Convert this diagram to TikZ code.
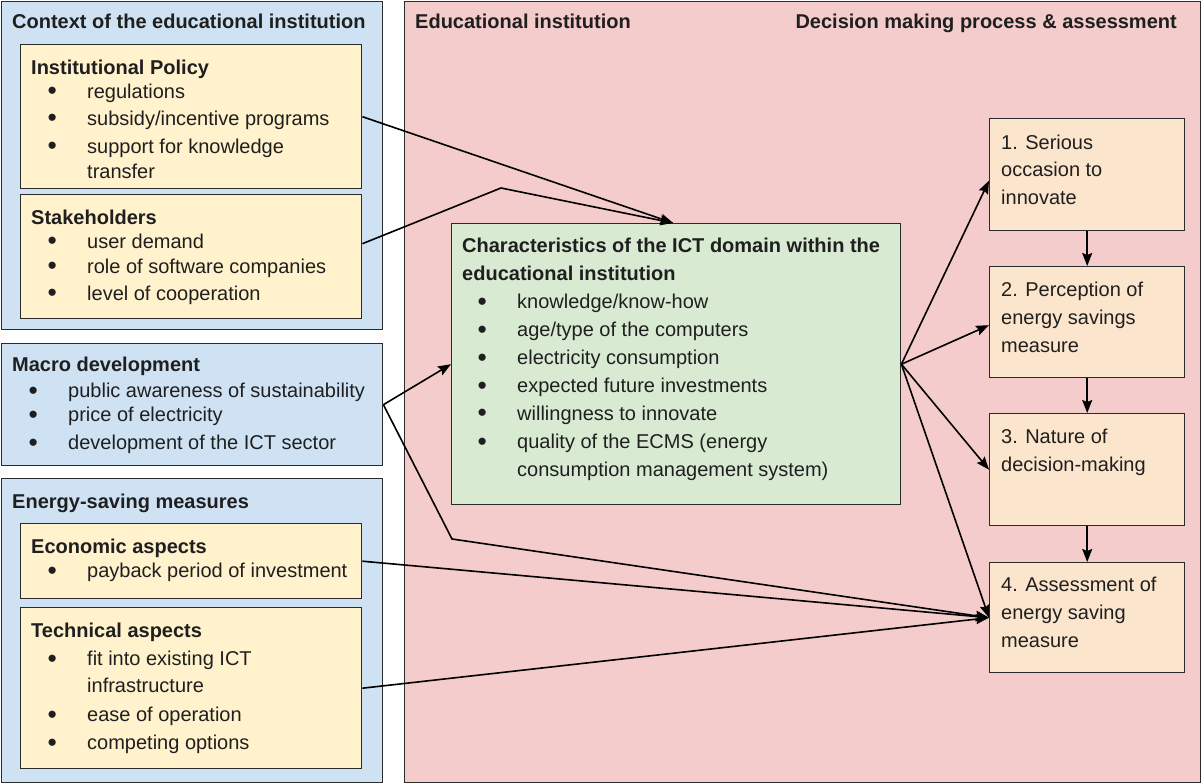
\documentclass[tikz,border=0pt]{standalone}
\usepackage{fontspec}
\setmainfont{Liberation Sans}
\usepackage{xcolor}
\usepackage{graphicx}
\usetikzlibrary{
  positioning,
  arrows.meta
}
\definecolor{ctxblue}{HTML}{CFE2F3}
\definecolor{polyellow}{HTML}{FFF2CC}
\definecolor{instpink}{HTML}{F4CCCC}
\definecolor{ictgreen}{HTML}{D9EAD3}
\definecolor{steppeach}{HTML}{FCE5CD}
\definecolor{edgegray}{HTML}{2B2B2B}
\tikzset{
  panel/.style={draw=edgegray, line width=1.4pt, anchor=north west, inner sep=0pt},
  txt/.style={anchor=north west, inner sep=0pt, align=left, text=black!88, font=\fontsize{20}{28}\selectfont},
  head/.style={anchor=base west, inner sep=0pt, text=black!88, font=\bfseries\fontsize{20}{28}\selectfont},
  flow/.style={draw=black, line width=1.6pt, -{Stealth[length=13pt,width=10pt,inset=2pt]}}
}
\newcommand{\bigdot}{\raisebox{-1.8pt}{\scalebox{1.32}{\textbullet}}}
\newcommand{\bul}[1]{\hspace*{17pt}\makebox[8pt][c]{\bigdot}\hspace*{31pt}#1}
\newcommand{\cont}[1]{\hspace*{56pt}#1}
\newcommand{\fst}{\rule{0pt}{16pt}}

\begin{document}
\begin{tikzpicture}[x=1pt,y=-1pt]
	    \useasboundingbox (0,0) rectangle (1202,783);
	    
	    % panels, sizes in pixels of the original drawing
	    \node[panel, fill=ctxblue, minimum width=381pt, minimum height=328pt] (ctx) at (1,1) {};
	    \node[panel, fill=polyellow, minimum width=341pt, minimum height=144pt] (ip) at (20,44) {};
	    \node[panel, fill=polyellow, minimum width=341pt, minimum height=124pt] (st) at (20,194) {};
	    \node[panel, fill=ctxblue, minimum width=381pt, minimum height=122pt] (mac) at (1,343) {};
	    \node[panel, fill=ctxblue, minimum width=381pt, minimum height=304pt] (esm) at (1,478) {};
	    \node[panel, fill=polyellow, minimum width=341pt, minimum height=75pt] (eco) at (20,523) {};
	    \node[panel, fill=polyellow, minimum width=341pt, minimum height=161pt] (tech) at (20,607) {};
	    \node[panel, fill=instpink, minimum width=796pt, minimum height=781pt] (edu) at (404,1) {};
	    \node[panel, fill=ictgreen, minimum width=449pt, minimum height=281pt] (ict) at (451,223) {};
	    \node[panel, fill=steppeach, minimum width=195pt, minimum height=112pt] (s1) at (989,118) {};
	    \node[panel, fill=steppeach, minimum width=195pt, minimum height=111pt] (s2) at (989,266) {};
	    \node[panel, fill=steppeach, minimum width=195pt, minimum height=112pt] (s3) at (989,413) {};
	    \node[panel, fill=steppeach, minimum width=195pt, minimum height=110pt] (s4) at (989,562) {};
	    
	    \coordinate (stbend) at (501,188);
	    \coordinate (macbend) at (452,539);
	    
	    \draw[flow] (ip.east) -- ([xshift=-3pt]ict.north);
	    \draw[flow] ([yshift=13pt]st.east) -- (stbend) -- ([xshift=-3pt]ict.north);
	    \draw[flow] (mac.east) -- (ict.west);
	    \draw[flow] (mac.east) -- (macbend) -- (s4.west);
	    \draw[flow] (eco.east) -- (s4.west);
	    \draw[flow] (tech.east) -- (s4.west);
	    \draw[flow] (ict.east) -- ([yshift=-6pt]s1.west);
	    \draw[flow] (ict.east) -- ([yshift=-3pt]s2.west);
	    \draw[flow] (ict.east) -- (s3.west);
	    \draw[flow] (ict.east) -- (s4.west);
	    \foreach \a/\b in {s1/s2, s2/s3, s3/s4}
	        \draw[flow] (\a.south) -- (\b.north);
	    
	    \node[head] (ctxtitle) at (12,29) {Context of the educational institution};
	    \node[head] (edutitle) at (415,29) {Educational institution};
	    \node[head, anchor=base east] (dectitle) at (1177,29) {Decision making process \& assessment};
	    \node[head] (esmtitle) at (12,508) {Energy-saving measures};
	    
	    \node[txt] (iptext) at (31,58) {\fst\textbf{Institutional Policy}\\[-4pt]
	        \bul{regulations}\\[-1pt]
	        \bul{subsidy/incentive programs}\\
	        \bul{support for knowledge}\\[-3pt]
	        \cont{transfer}};
	    \node[txt] (sttext) at (31,208) {\fst\textbf{Stakeholders}\\[-4pt]
	        \bul{user demand}\\[-3pt]
	        \bul{role of software companies}\\[-1pt]
	        \bul{level of cooperation}};
	    \node[txt] (mactext) at (12,355) {\fst\textbf{Macro development}\\[-2pt]
	        \bul{public awareness of sustainability}\\[-4pt]
	        \bul{price of electricity}\\
	        \bul{development of the ICT sector}};
	    \node[txt] (ecotext) at (31,537) {\fst\textbf{Economic aspects}\\[-4pt]
	        \bul{payback period of investment}};
	    \node[txt] (techtext) at (31,621) {\fst\textbf{Technical aspects}\\
	        \bul{fit into existing ICT}\\[-1pt]
	        \cont{infrastructure}\\[1pt]
	        \bul{ease of operation}\\
	        \bul{competing options}};
	    \node[txt] (icttext) at (462,236) {\fst\textbf{Characteristics of the ICT domain within the}\\
	        \textbf{educational institution}\\
	        \hspace*{-1pt}\bul{knowledge/know-how}\\
	        \hspace*{-1pt}\bul{age/type of the computers}\\
	        \hspace*{-1pt}\bul{electricity consumption}\\
	        \hspace*{-1pt}\bul{expected future investments}\\
	        \hspace*{-1pt}\bul{willingness to innovate}\\
	        \hspace*{-1pt}\bul{quality of the ECMS (energy}\\
	        \hspace*{-1pt}\cont{consumption management system)}};
	    
	    \node[txt] (s1text) at (1001,133) {\fst 1. Serious\\[-1pt] occasion to\\ innovate};
	    \node[txt] (s2text) at (1001,280) {\fst 2. Perception of\\ energy savings\\ measure};
	    \node[txt] (s3text) at (1001,427) {\fst 3. Nature of\\ decision-making};
	    \node[txt] (s4text) at (1001,575) {\fst 4. Assessment of\\ energy saving\\ measure};

	\end{tikzpicture}
\end{document}
